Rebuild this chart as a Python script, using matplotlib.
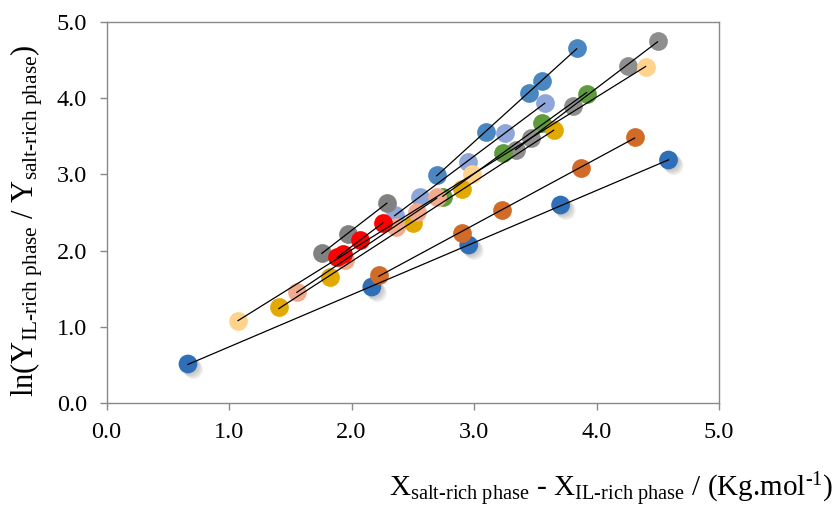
import numpy as np
import matplotlib
matplotlib.use("Agg")
import matplotlib.pyplot as plt
import matplotlib.patheffects as pe

# ── data ─────────────────────────────────────────────────────────────────────
blue_x  = [0.665, 2.166, 2.957, 3.707, 4.588]
blue_y  = [0.512, 1.522, 2.073, 2.598, 3.189]
orng_x  = [2.223, 2.900, 3.226, 3.870, 4.311]
orng_y  = [1.680, 2.231, 2.533, 3.084, 3.491]
steel_x = [2.696, 3.096, 3.446, 3.552, 3.838]
steel_y = [2.992, 3.556, 4.068, 4.226, 4.659]
lav_x   = [2.353, 2.557, 2.949, 3.250, 3.577]
lav_y   = [2.467, 2.703, 3.163, 3.543, 3.937]
gray1_x = [1.758, 1.970, 2.288]
gray1_y = [1.969, 2.218, 2.625]
gray2_x = [3.340, 3.462, 3.805, 4.254, 4.498]
gray2_y = [3.320, 3.478, 3.898, 4.423, 4.751]
green_x = [2.745, 3.234, 3.552, 3.919]
green_y = [2.703, 3.281, 3.675, 4.055]
gold_x  = [1.407, 1.823, 2.500, 2.900, 3.650]
gold_y  = [1.260, 1.654, 2.362, 2.808, 3.583]
lor_x   = [1.074, 2.981, 4.401]
lor_y   = [1.076, 3.005, 4.409]
salm_x  = [1.554, 1.945, 2.361, 2.533, 2.696]
salm_y  = [1.457, 1.877, 2.310, 2.507, 2.703]
red_x   = [1.880, 1.929, 2.068, 2.255]
red_y   = [1.916, 1.955, 2.139, 2.362]

ticks = [0.0, 1.0, 2.0, 3.0, 4.0, 5.0]

series = [
    (lav_x,   lav_y,   "#8EA6DA"),
    (steel_x, steel_y, "#4A87C1"),
    (gray2_x, gray2_y, "#8E8E8E"),
    (green_x, green_y, "#5E9B3C"),
    (lor_x,   lor_y,   "#FFD38C"),
    (gold_x,  gold_y,  "#E2AA00"),
    (salm_x,  salm_y,  "#F2AB8C"),
    (gray1_x, gray1_y, "#818181"),
    (red_x,   red_y,   "#FF0000"),
    (blue_x,  blue_y,  "#2F6FB8"),
    (orng_x,  orng_y,  "#D26A28"),
]

plt.rcParams["font.family"] = ["Liberation Serif", "DejaVu Serif"]
plt.rcParams["mathtext.fontset"] = "custom"
plt.rcParams["mathtext.rm"] = "Liberation Serif"
plt.rcParams["mathtext.it"] = "Liberation Serif:italic"

fig = plt.figure(figsize=(8.4, 5.08), dpi=100)
ax = fig.add_axes([106.5/840, 1-403/508, (719-106.5)/840, (403-22)/508])

# soft drop shadow for the dark-blue series (stacked faint offsets)
shadow = [pe.SimplePatchShadow(offset=(d, -d), shadow_rgbFace="#808080", alpha=0.13)
          for d in (1.0, 2.0, 3.0, 4.0)] + [pe.Normal()]

for xs, ys, col in series:
    kw = {"path_effects": shadow} if col == "#2F6FB8" else {}
    ax.plot(xs, ys, "o", ms=13.5, mfc=col, mec="none", zorder=2, **kw)

# linear trendlines on top
for xs, ys, col in series:
    k, b = np.polyfit(xs, ys, 1)
    xx = np.array([min(xs), max(xs)])
    ax.plot(xx, k*xx + b, color="black", lw=0.9, zorder=3)

ax.set_xlim(0, 5)
ax.set_ylim(0, 5)
ax.set_xticks(ticks)
ax.set_yticks(ticks)
ax.set_xticklabels([f"{v:.1f}" for v in ticks])
ax.set_yticklabels([f"{v:.1f}" for v in ticks])
for s in ax.spines.values():
    s.set_color("#898989")
    s.set_linewidth(1.0)
ax.tick_params(direction="out", length=5, width=1.0, color="#898989",
               labelsize=17.5, pad=9)

fig.text(833/840, 1-490/508,
         r"X$_{\mathrm{salt‐rich\ phase}}$ - X$_{\mathrm{IL‐rich\ phase}}$ / (Kg.mol$^{\mathrm{‐1}}$)",
         ha="right", va="center", fontsize=21)
fig.text(27/840, 1-221/508,
         r"ln(Y$_{\mathrm{IL‐rich\ phase}}$ / Y$_{\mathrm{salt‐rich\ phase}}$)",
         ha="center", va="center", rotation=90, fontsize=22)

fig.savefig("out.png", dpi=100)
